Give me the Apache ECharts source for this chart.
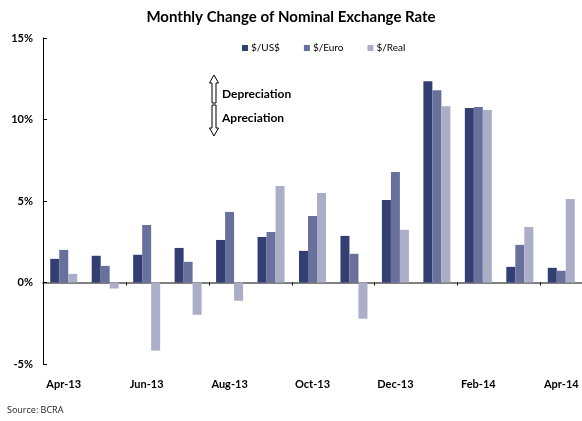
<!DOCTYPE html>
<html>
<head>
<meta charset="utf-8">
<script src="https://cdn.jsdelivr.net/npm/echarts@6/dist/echarts.min.js"></script>
<style>
html,body{margin:0;padding:0;background:#fff;}
#c{width:582px;height:421px;}
</style>
</head>
<body>
<div id="c"></div>
<script>
const categories = ['Apr-13','May-13','Jun-13','Jul-13','Aug-13','Sep-13','Oct-13','Nov-13','Dec-13','Jan-14','Feb-14','Mar-14','Apr-14'];
const usd  = [1.45, 1.64, 1.70, 2.12, 2.61, 2.79, 1.94, 2.86, 5.06, 12.35, 10.70, 0.96, 0.90];
const euro = [2.00, 1.02, 3.53, 1.27, 4.33, 3.10, 4.08, 1.76, 6.78, 11.80, 10.76, 2.31, 0.72];
const real = [0.53, -0.37, -4.18, -1.98, -1.12, 5.92, 5.49, -2.22, 3.23, 10.82, 10.58, 3.41, 5.12];
const seriesNames = ['$/US$', '$/Euro', '$/Real'];
const yTicks = { min: -5, max: 15, interval: 5 };

const FONT = 'Lato';
const chart = echarts.init(document.getElementById('c'), null, {renderer: 'canvas'});
const colors = ['#333F73', '#68719C', '#ACAEC8'];

chart.setOption({
  animation: false,
  backgroundColor: '#fff',
  color: colors,
  title: {
    text: 'Monthly Change of Nominal Exchange Rate',
    left: 'center', top: 10, padding: 0,
    textStyle: { fontFamily: FONT, fontWeight: 'bold', fontSize: 15, color: '#000' }
  },
  legend: {
    data: seriesNames,
    left: 242, top: 43, padding: 0,
    itemWidth: 6, itemHeight: 6, itemGap: 24,
    icon: 'rect',
    textStyle: { fontFamily: FONT, fontSize: 10, color: '#000', padding: [0,0,0,-2] }
  },
  grid: { left: 43, right: 0, top: 38, bottom: 57, containLabel: false },
  xAxis: [
    {
      type: 'category', data: categories,
      axisLine: { onZero: true, lineStyle: { color: '#808080', width: 2 } },
      axisTick: { show: true, interval: 1, length: 3, lineStyle: { color: '#000', width: 1 } },
      axisLabel: { show: false },
      splitLine: { show: false }
    },
    {
      type: 'category', data: categories, position: 'bottom',
      axisLine: { show: false, onZero: false },
      axisTick: { show: false },
      axisLabel: { interval: 1, margin: 15, fontFamily: FONT, fontWeight: 'bold', fontSize: 11, color: '#000' },
      splitLine: { show: false }
    }
  ],
  yAxis: {
    type: 'value', min: yTicks.min, max: yTicks.max, interval: yTicks.interval,
    axisLine: { show: true, lineStyle: { color: '#000', width: 1 } },
    axisTick: { show: true, inside: true, length: 4, lineStyle: { color: '#000' } },
    axisLabel: { formatter: '{value}%', margin: 10, fontFamily: FONT, fontWeight: 'bold', fontSize: 11, color: '#000' },
    splitLine: { show: false }
  },
  series: [
    { name: seriesNames[0], type: 'bar', data: usd, barWidth: 9, barGap: '0%', xAxisIndex: 0, z: 1 },
    { name: seriesNames[1], type: 'bar', data: euro, barWidth: 9, barGap: '0%', xAxisIndex: 0, z: 1 },
    { name: seriesNames[2], type: 'bar', data: real, barWidth: 9, barGap: '0%', xAxisIndex: 0, z: 1 }
  ],
  graphic: [
    { type: 'polygon', shape: { points: [[214,75],[218.5,83],[216,83],[216,103],[212,103],[212,83],[209.5,83]] },
      style: { fill: '#fff', stroke: '#000', lineWidth: 1 } },
    { type: 'polygon', shape: { points: [[212,105],[216,105],[216,128],[218.5,128],[214,136],[209.5,128],[212,128]] },
      style: { fill: '#fff', stroke: '#000', lineWidth: 1 } },
    { type: 'text', left: 222, top: 88,
      style: { text: 'Depreciation', fontFamily: FONT, fontWeight: 'bold', fontSize: 12, fill: '#000' } },
    { type: 'text', left: 222, top: 112,
      style: { text: 'Apreciation', fontFamily: FONT, fontWeight: 'bold', fontSize: 12, fill: '#000' } },
    { type: 'text', left: 7, top: 406,
      style: { text: 'Source: BCRA', fontFamily: 'Open Sans', fontSize: 9, fill: '#222' } }
  ]
});
</script>
</body>
</html>
